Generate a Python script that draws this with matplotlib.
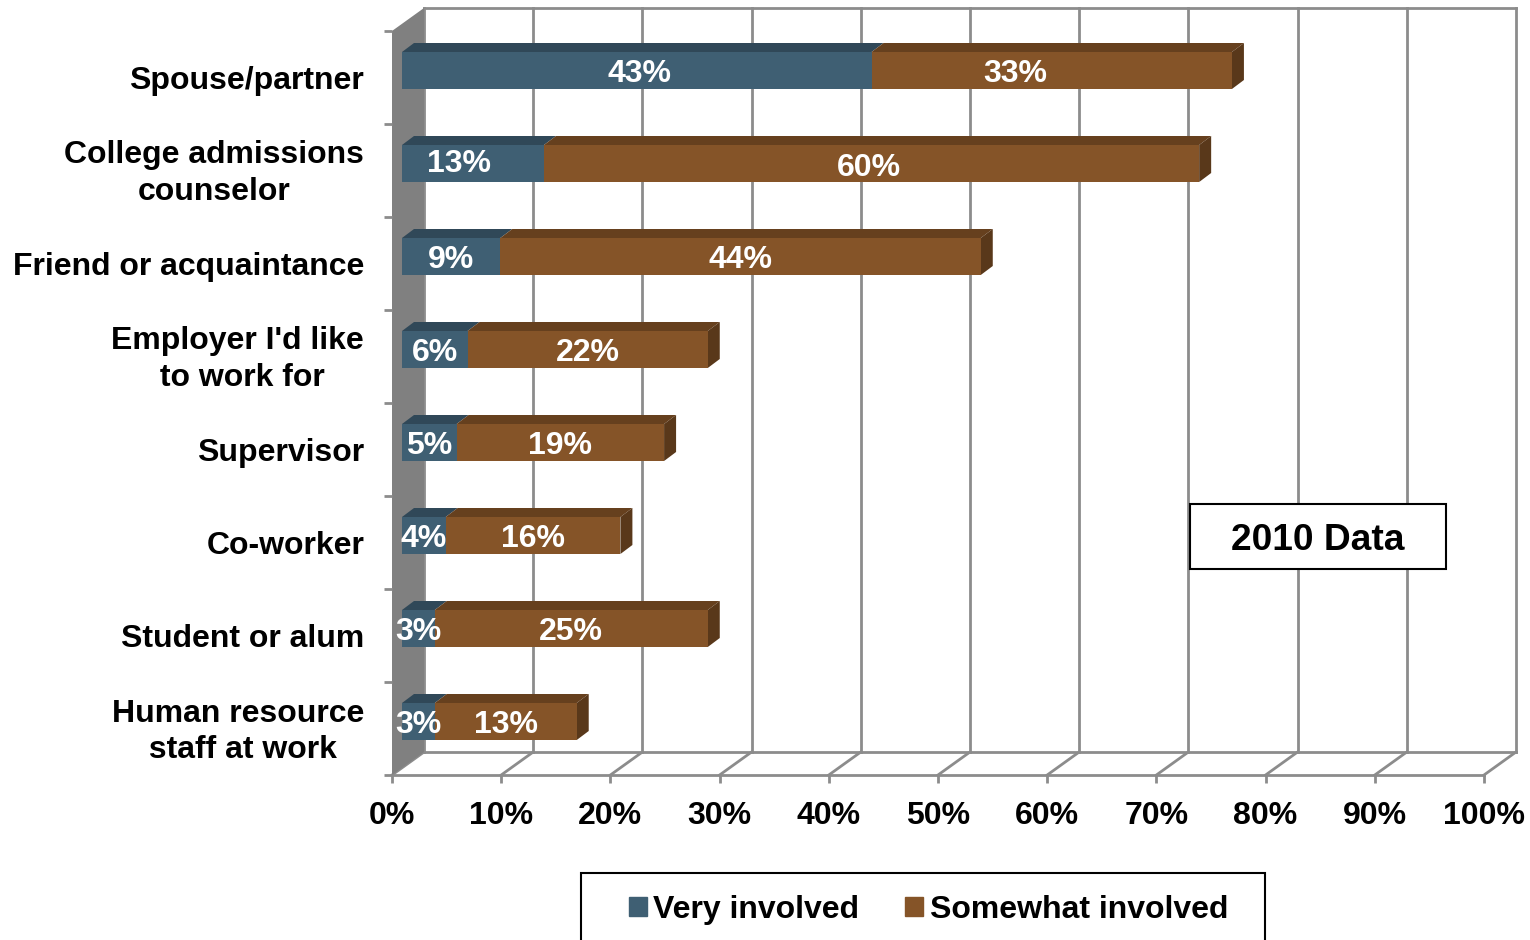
import matplotlib
matplotlib.use('Agg')
import matplotlib.pyplot as plt
from matplotlib.patches import Polygon, Rectangle
from matplotlib.transforms import Affine2D, IdentityTransform

plt.rcParams['font.family'] = ['Liberation Sans', 'DejaVu Sans']
plt.rcParams['font.weight'] = 'bold'

categories = ['Spouse/partner', 'College admissions\ncounselor', 'Friend or acquaintance',
              "Employer I'd like\n to work for", 'Supervisor', 'Co-worker',
              'Student or alum', 'Human resource\n staff at work']
very_involved = [43, 13, 9, 6, 5, 4, 3, 3]
somewhat_involved = [33, 60, 44, 22, 19, 16, 25, 13]
x_ticks = [0, 10, 20, 30, 40, 50, 60, 70, 80, 90, 100]

W, H = 1530, 940
GRID = '#8c8c8c'
VERY = ('#3f5f73', '#304858')
SOME = ('#855428', '#66401e', '#59381a')
FS = 23

fig = plt.figure(figsize=(W / 100, H / 100), dpi=100)
# ejes = cara frontal de la caja 3D
ax = fig.add_axes([392 / W, 1 - 775 / H, 1092 / W, 744 / H])
ax.set_xlim(0, 100)
ax.set_ylim(8, 0)
ax.patch.set_visible(False)
for s in ax.spines.values():
    s.set_visible(False)

def pt(x, y, dx=0, dy=0):
    # datos -> pixeles, con desplazamiento de profundidad
    px, py = ax.transData.transform((x, y))
    return (px + dx, py + dy)

def poly(pts, color, z=2):
    ax.add_patch(Polygon(pts, closed=True, facecolor=color, edgecolor='none', lw=0,
                         transform=IdentityTransform(), zorder=z, clip_on=False))

def line(a, b, z=1):
    ax.plot([a[0], b[0]], [a[1], b[1]], color=GRID, lw=2, transform=IdentityTransform(),
            zorder=z, clip_on=False, solid_capstyle='projecting')

# pared izquierda, rejilla y piso
DX, DY = 32, 23
poly([pt(0, 8), pt(0, 0), pt(0, 0, DX, DY), pt(0, 8, DX, DY)], '#808080', z=1.5)
for t in x_ticks:
    line(pt(t, 8), pt(t, 8, DX, DY))
    line(pt(t, 8, DX, DY), pt(t, 0, DX, DY))
line(pt(0, 8), pt(100, 8))
line(pt(0, 8, DX, DY), pt(100, 8, DX, DY))
line(pt(0, 0, DX, DY), pt(100, 0, DX, DY))

# barras
BX, BY = 10, 7
TX, TY = 12, 9
BAR_H = 37 / 93
very_shift = [3, -14, 0, 0, 0, 0, 0, 0]
very_dy = [0, 2.5, 0, 0, 0, 0, 0, 0]
some_shift = [-36, -3, 0, 0, 0, 0, 0, 0]
some_dy = [0, -1, 0, 0, 0, 0, 0, 0]
for i, (v, s) in enumerate(zip(very_involved, somewhat_involved)):
    y0 = i + 0.5 + BAR_H / 2
    y1 = i + 0.5 - BAR_H / 2
    for left, val, cols in ((0, v, VERY), (v, s, SOME)):
        right = left + val
        poly([pt(left, y0, BX, BY), pt(right, y0, BX, BY), pt(right, y1, BX, BY), pt(left, y1, BX, BY)], cols[0], z=3)
        poly([pt(left, y1, BX, BY), pt(right, y1, BX, BY), pt(right, y1, BX + TX, BY + TY), pt(left, y1, BX + TX, BY + TY)], cols[1], z=2.5)
    end = v + s
    poly([pt(end, y0, BX, BY), pt(end, y1, BX, BY), pt(end, y1, BX + TX, BY + TY), pt(end, y0, BX + TX, BY + TY)], SOME[2], z=2.5)
    ax.text(v / 2, i + 0.5, f'{v}%', color='white', fontsize=FS, ha='center', va='center_baseline', zorder=4,
            transform=ax.transData + Affine2D().translate(BX + very_shift[i], BY + very_dy[i]))
    ax.text(v + s / 2, i + 0.5, f'{s}%', color='white', fontsize=FS, ha='center', va='center_baseline', zorder=4,
            transform=ax.transData + Affine2D().translate(BX + some_shift[i], BY + some_dy[i]))

# ejes
ax.set_xticks(x_ticks)
ax.set_xticklabels([f'{t}%' for t in x_ticks], fontsize=FS, fontweight='bold')
ax.tick_params(axis='x', length=6, width=2, color=GRID, pad=13)
ax.set_yticks(range(9))
ax.set_yticklabels([])
ax.set_yticks([i + 0.5 for i in range(8)], minor=True)
ax.set_yticklabels(categories, minor=True, fontsize=FS, fontweight='bold', ma='center', linespacing=1.28)
ax.tick_params(axis='y', which='major', length=6, width=2, color=GRID)
ax.tick_params(axis='y', which='minor', length=0, pad=20)
# las etiquetas de dos lineas van un poco mas arriba
for lbl in ax.get_yticklabels(minor=True):
    if '\n' in lbl.get_text():
        lbl.set_transform(lbl.get_transform() + Affine2D().translate(0, 3.5))

# cuadro 2010 Data
fig.add_artist(Rectangle((1190 / W, 1 - 569 / H), 256 / W, 65 / H, transform=fig.transFigure,
                         facecolor='white', edgecolor='black', lw=1.5, zorder=5))
fig.text(1318 / W, 1 - 540 / H, '2010 Data', fontsize=26.7, ha='center', va='center', zorder=6)

# leyenda
fig.add_artist(Rectangle((581 / W, 1 - 945 / H), 684 / W, 72 / H, transform=fig.transFigure,
                         facecolor='white', edgecolor='black', lw=1.5, zorder=5))
handles = [Rectangle((0, 0), 1, 1, color=VERY[0]), Rectangle((0, 0), 1, 1, color=SOME[0])]
leg = fig.legend(handles, ['Very involved', 'Somewhat involved'], ncol=2, frameon=False,
                 fontsize=FS, loc='center left', bbox_to_anchor=(616 / W, 1 - 910 / H),
                 handlelength=0.56, handleheight=0.56, handletextpad=0.2, columnspacing=1.45,
                 borderaxespad=0)
leg.set_zorder(6)

plt.savefig('out.png', dpi=100)
